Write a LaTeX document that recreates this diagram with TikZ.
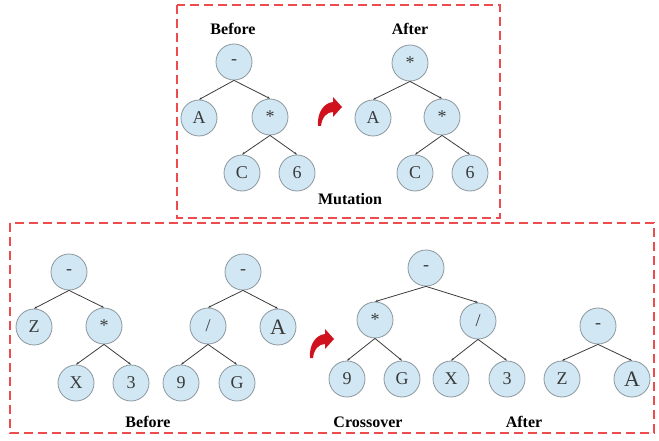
\documentclass[tikz,border=0pt]{standalone}
\usepackage{fontspec}
\setmainfont{Liberation Serif}
\usetikzlibrary{arrows.meta}
\definecolor{nodefill}{HTML}{D1E8F4}
\definecolor{nodedraw}{HTML}{8C979E}
\definecolor{edgecol}{HTML}{3C3C3C}
\definecolor{boxred}{HTML}{EE4B4F}
\definecolor{arrred}{HTML}{D0121E}
\definecolor{txt}{HTML}{3A3A3A}
\tikzset{
  tn/.style={circle, draw=nodedraw, fill=nodefill, line width=0.8pt, minimum size=36pt, inner sep=0pt, text=txt, font=\fontsize{18}{18}\selectfont},
  big/.style={font=\fontsize{22}{22}\selectfont},
  lbl/.style={font=\bfseries\fontsize{16}{16}\selectfont, text=black, inner sep=0pt},
  edge/.style={draw=edgecol, line width=0.8pt, -{Stealth[length=3pt,width=2.2pt]}},
  box/.style={draw=boxred, line width=1.3pt, dash pattern=on 9pt off 5pt},
  redarrow/.style={fill=arrred, draw=none}
}
\begin{document}
\begin{tikzpicture}[x=1pt,y=-1pt]
\useasboundingbox (0,0) rectangle (659,441);
% boxes
\draw[box] (177,5) rectangle (500,218);
\draw[box] (10,223) rectangle (654,433);

% ---- Mutation: before
\node[lbl] (mbl) at (233,29) {Before};
\node[tn] (m1) at (234,62) {-};
\node[tn] (m2) at (199,118) {A};
\node[tn] (m3) at (270,117) {*};
\node[tn] (m4) at (242,173) {C};
\node[tn] (m5) at (297,173) {6};
\draw[edge] (m1.south) -- (m2.north);
\draw[edge] (m1.south) -- (m3.north);
\draw[edge] (m3.south) -- (m4.north);
\draw[edge] (m3.south) -- (m5.north);

% ---- Mutation: after
\node[lbl] (mal) at (410,29) {After};
\node[tn] (n1) at (410,63) {*};
\node[tn] (n2) at (373,118) {A};
\node[tn] (n3) at (442,117) {*};
\node[tn] (n4) at (415,173) {C};
\node[tn] (n5) at (470,173) {6};
\draw[edge] (n1.south) -- (n2.north);
\draw[edge] (n1.south) -- (n3.north);
\draw[edge] (n3.south) -- (n4.north);
\draw[edge] (n3.south) -- (n5.north);

\node[lbl] (mut) at (350,199) {Mutation};

% red arrow (mutation)
\begin{scope}[shift={(329,112)}]
\fill[redarrow] (-11,14) .. controls (-12,0) and (-5,-9) .. (4,-10) -- (4,-15) -- (13,-5) -- (4,5) -- (4,0) .. controls (-2,0) and (-7,5) .. (-8,14) -- cycle;
\end{scope}

% ---- Crossover: before tree 1
\node[tn] (a1) at (69,272) {-};
\node[tn] (a2) at (34,327) {Z};
\node[tn] (a3) at (104,326) {*};
\node[tn] (a4) at (76,383) {X};
\node[tn] (a5) at (131,383) {3};
\draw[edge] (a1.south) -- (a2.north);
\draw[edge] (a1.south) -- (a3.north);
\draw[edge] (a3.south) -- (a4.north);
\draw[edge] (a3.south) -- (a5.north);

% before tree 2
\node[tn] (b1) at (243,272) {-};
\node[tn] (b2) at (208,326) {/};
\node[tn,big] (b3) at (278,327) {A};
\node[tn] (b4) at (181,383) {9};
\node[tn] (b5) at (237,383) {G};
\draw[edge] (b1.south) -- (b2.north);
\draw[edge] (b1.south) -- (b3.north);
\draw[edge] (b2.south) -- (b4.north);
\draw[edge] (b2.south) -- (b5.north);

% red arrow (crossover)
\begin{scope}[shift={(321,344)}]
\fill[redarrow] (-11,14) .. controls (-12,0) and (-5,-9) .. (4,-10) -- (4,-15) -- (13,-5) -- (4,5) -- (4,0) .. controls (-2,0) and (-7,5) .. (-8,14) -- cycle;
\end{scope}

% after tree 1
\node[tn] (c1) at (426,268) {-};
\node[tn] (c2) at (375,320) {*};
\node[tn] (c3) at (478,321) {/};
\node[tn] (c4) at (347,379) {9};
\node[tn] (c5) at (402,379) {G};
\node[tn] (c6) at (451,379) {X};
\node[tn] (c7) at (507,379) {3};
\draw[edge] (c1.south) -- (c2.north);
\draw[edge] (c1.south) -- (c3.north);
\draw[edge] (c2.south) -- (c4.north);
\draw[edge] (c2.south) -- (c5.north);
\draw[edge] (c3.south) -- (c6.north);
\draw[edge] (c3.south) -- (c7.north);

% after tree 2
\node[tn] (d1) at (598,326) {-};
\node[tn] (d2) at (562,379) {Z};
\node[tn,big] (d3) at (632,379) {A};
\draw[edge] (d1.south) -- (d2.north);
\draw[edge] (d1.south) -- (d3.north);

\node[lbl] (cbl) at (148,422) {Before};
\node[lbl] (cxl) at (368,422) {Crossover};
\node[lbl] (cal) at (524,422) {After};
\end{tikzpicture}
\end{document}
